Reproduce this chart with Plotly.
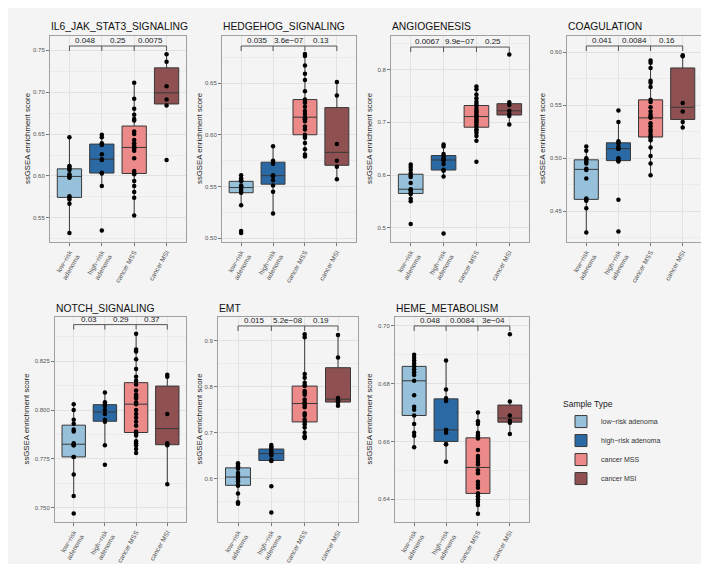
import numpy as np
import plotly.graph_objects as go

# ---------------- data ----------------
groups = ["low−risk adenoma", "high−risk adenoma", "cancer MSS", "cancer MSI"]
tick_labels = ["low−risk<br>adenoma", "high−risk<br>adenoma", "cancer MSS", "cancer MSI"]
colors = ["#97c1db", "#2a69a3", "#ec8a8a", "#8e5050"]

pathways = ["IL6_JAK_STAT3_SIGNALING", "HEDGEHOG_SIGNALING", "ANGIOGENESIS", "COAGULATION",
            "NOTCH_SIGNALING", "EMT", "HEME_METABOLISM"]

il6_low = [0.532, 0.567, 0.572, 0.574, 0.576, 0.598, 0.599, 0.600, 0.602, 0.607, 0.609, 0.611, 0.612, 0.646]
il6_high = [0.535, 0.588, 0.603, 0.604, 0.619, 0.620, 0.626, 0.637, 0.639, 0.646, 0.649]
il6_mss = [0.553, 0.574, 0.581, 0.588, 0.594, 0.602, 0.604, 0.606, 0.621, 0.630, 0.633, 0.634, 0.636,
           0.639, 0.643, 0.650, 0.653, 0.666, 0.668, 0.673, 0.680, 0.692, 0.711]
il6_msi = [0.619, 0.684, 0.691, 0.707, 0.736, 0.745]

hh_low = [0.505, 0.507, 0.532, 0.544, 0.545, 0.547, 0.549, 0.550, 0.551, 0.555, 0.556, 0.558, 0.561]
hh_high = [0.524, 0.545, 0.551, 0.556, 0.560, 0.561, 0.572, 0.574, 0.575, 0.589]
hh_mss = [0.579, 0.581, 0.586, 0.592, 0.597, 0.598, 0.600, 0.605, 0.608, 0.613, 0.615, 0.616, 0.617,
          0.620, 0.623, 0.627, 0.631, 0.632, 0.634, 0.642, 0.653, 0.659, 0.667, 0.676, 0.678]
hh_msi = [0.557, 0.569, 0.575, 0.591, 0.638, 0.651]

ang_low = [0.507, 0.550, 0.555, 0.564, 0.566, 0.570, 0.572, 0.573, 0.585, 0.596, 0.599, 0.604, 0.610, 0.615, 0.620]
ang_high = [0.489, 0.597, 0.608, 0.610, 0.621, 0.628, 0.629, 0.632, 0.636, 0.640, 0.654, 0.658]
ang_mss = [0.625, 0.665, 0.674, 0.680, 0.684, 0.687, 0.692, 0.696, 0.700, 0.703, 0.706, 0.710, 0.712,
           0.715, 0.719, 0.722, 0.726, 0.731, 0.735, 0.739, 0.746, 0.753, 0.763, 0.768]
ang_msi = [0.696, 0.712, 0.716, 0.722, 0.733, 0.738, 0.829]

coa_low = [0.430, 0.453, 0.460, 0.461, 0.462, 0.481, 0.489, 0.490, 0.495, 0.497, 0.499, 0.500, 0.507, 0.511]
coa_high = [0.431, 0.461, 0.497, 0.498, 0.500, 0.509, 0.509, 0.511, 0.514, 0.516, 0.534, 0.545]
coa_mss = [0.484, 0.495, 0.502, 0.510, 0.517, 0.519, 0.520, 0.522, 0.525, 0.527, 0.530, 0.533, 0.538,
           0.539, 0.541, 0.544, 0.548, 0.553, 0.555, 0.567, 0.571, 0.573, 0.585, 0.590, 0.592]
coa_msi = [0.529, 0.534, 0.544, 0.552, 0.596, 0.597]

not_low = [0.747, 0.756, 0.767, 0.776, 0.776, 0.782, 0.782, 0.783, 0.789, 0.790, 0.793, 0.795, 0.800, 0.803]
not_high = [0.772, 0.782, 0.794, 0.795, 0.798, 0.800, 0.802, 0.803, 0.804, 0.809]
not_mss = [0.778, 0.780, 0.782, 0.783, 0.784, 0.787, 0.788, 0.789, 0.792, 0.794, 0.796, 0.798, 0.800, 0.803,
           0.804, 0.806, 0.807, 0.808, 0.810, 0.813, 0.815, 0.817, 0.821, 0.826, 0.830, 0.831, 0.839]
not_msi = [0.762, 0.782, 0.783, 0.798, 0.817, 0.818]

emt_low = [0.545, 0.548, 0.567, 0.584, 0.586, 0.594, 0.599, 0.603, 0.606, 0.612, 0.621, 0.625, 0.626, 0.629, 0.633]
emt_high = [0.526, 0.583, 0.638, 0.640, 0.650, 0.654, 0.658, 0.662, 0.666, 0.669, 0.673]
emt_mss = [0.688, 0.690, 0.692, 0.700, 0.711, 0.718, 0.723, 0.728, 0.737, 0.742, 0.755, 0.760, 0.763,
           0.765, 0.772, 0.782, 0.787, 0.790, 0.801, 0.803, 0.808, 0.819, 0.827, 0.907, 0.914]
emt_msi = [0.758, 0.765, 0.770, 0.775, 0.863, 0.912]

heme_low = [0.658, 0.662, 0.663, 0.666, 0.669, 0.671, 0.672, 0.676, 0.681, 0.683, 0.684, 0.685, 0.686,
            0.687, 0.688, 0.689, 0.690]
heme_high = [0.653, 0.659, 0.659, 0.663, 0.664, 0.664, 0.674, 0.675, 0.678, 0.688]
heme_mss = [0.635, 0.638, 0.639, 0.640, 0.641, 0.642, 0.642, 0.644, 0.645, 0.646, 0.649, 0.650, 0.652,
            0.653, 0.654, 0.655, 0.657, 0.661, 0.662, 0.662, 0.663, 0.666, 0.667, 0.670]
heme_msi = [0.6626, 0.6665, 0.6672, 0.6690, 0.6738, 0.6971]

panel_values = [
    [il6_low, il6_high, il6_mss, il6_msi],
    [hh_low, hh_high, hh_mss, hh_msi],
    [ang_low, ang_high, ang_mss, ang_msi],
    [coa_low, coa_high, coa_mss, coa_msi],
    [not_low, not_high, not_mss, not_msi],
    [emt_low, emt_high, emt_mss, emt_msi],
    [heme_low, heme_high, heme_mss, heme_msi],
]

p_values = [
    ["0.048", "0.25", "0.0075"],
    ["0.035", "3.6e−07", "0.13"],
    ["0.0067", "9.9e−07", "0.25"],
    ["0.041", "0.0084", "0.16"],
    ["0.03", "0.29", "0.37"],
    ["0.015", "5.2e−08", "0.19"],
    ["0.048", "0.0084", "3e−04"],
]
bracket_y = [0.7548, 0.6857, 0.843, 0.6057, 0.8437, 0.9318, 0.700]
y_title = "ssGSEA enrichment score"

# ---------------- layout (pixels) ----------------
W, H = 709, 564
panel_px = [  # x0, x1, y0(top), y1(bottom)
    (42, 178, 28, 234), (214, 348, 28, 234), (383, 521, 28, 234), (559, 694, 28, 234),
    (47, 178, 309, 514), (210, 350, 309, 514), (387, 521, 309, 514),
]
ytitle_px = [19, 191, 361, 534, 18, 191, 361]
y_ranges = [(0.5214, 0.7667), (0.4964, 0.6954), (0.4728, 0.864), (0.4211, 0.6151),
            (0.7427, 0.8476), (0.5052, 0.9513), (0.6321, 0.7031)]
y_dticks = [0.05, 0.05, 0.1, 0.05, 0.025, 0.1, 0.02]
y_formats = [".2f", ".2f", ".1f", ".2f", ".3f", ".1f", ".2f"]

FONT = "Liberation Sans, Arial, sans-serif"
BG = "#f4f4f4"
GRID = "#e2e2e2"
MINOR = "#ebebeb"
BORDER = "#a0a0a0"


def box_stats(v):
    """ggplot2-style (R type 7) box statistics."""
    a = np.asarray(v, dtype=float)
    q1, med, q3 = np.percentile(a, [25, 50, 75])
    iqr = q3 - q1
    lo = a[a >= q1 - 1.5 * iqr].min()
    hi = a[a <= q3 + 1.5 * iqr].max()
    return q1, med, q3, lo, hi


fig = go.Figure()
layout = dict(shapes=[], annotations=[])

for i, (vals, title) in enumerate(zip(panel_values, pathways)):
    n = i + 1
    xa = "x" if n == 1 else f"x{n}"
    ya = "y" if n == 1 else f"y{n}"
    for g, (v, grp, col, tl) in enumerate(zip(vals, groups, colors, tick_labels)):
        q1, med, q3, lo, hi = box_stats(v)
        fig.add_trace(go.Box(
            x=[tl], q1=[q1], median=[med], q3=[q3], lowerfence=[lo], upperfence=[hi],
            name=grp, showlegend=(i == 0),
            fillcolor=col, line=dict(color="#383838", width=1),
            width=0.75, whiskerwidth=0, xaxis=xa, yaxis=ya, hoverinfo="skip",
        ))
        fig.add_trace(go.Scatter(
            x=[tl] * len(v), y=v, mode="markers", showlegend=False,
            marker=dict(color="black", size=4.5), xaxis=xa, yaxis=ya, hoverinfo="y",
        ))
    x0, x1, yt, yb = panel_px[i]
    xkey = "xaxis" if n == 1 else f"xaxis{n}"
    ykey = "yaxis" if n == 1 else f"yaxis{n}"
    layout[xkey] = dict(
        domain=[x0 / W, x1 / W], anchor=ya, type="category",
        categoryorder="array", categoryarray=tick_labels, range=[-0.6, 3.6],
        tickangle=-60, tickfont=dict(size=6.6, color="#555555", family=FONT),
        showgrid=True, gridcolor=GRID, gridwidth=1,
        showline=True, mirror=True, linecolor=BORDER, linewidth=1,
        ticks="outside", ticklen=3, tickcolor="#777777", zeroline=False,
    )
    lo, hi = y_ranges[i]
    layout[ykey] = dict(
        domain=[1 - yb / H, 1 - yt / H], anchor=xa, range=[lo, hi],
        tick0=0, dtick=y_dticks[i], tickformat=y_formats[i],
        tickfont=dict(size=6, color="#555555", family=FONT),
        showgrid=True, gridcolor=GRID, gridwidth=1,
        minor=dict(showgrid=True, gridcolor=MINOR, dtick=y_dticks[i] / 2, tick0=0),
        showline=True, mirror=True, linecolor=BORDER, linewidth=1,
        ticks="outside", ticklen=3, tickcolor="#777777", zeroline=False,
    )
    # y-axis title
    layout["annotations"].append(dict(
        x=ytitle_px[i] / W, y=1 - (yt + yb) / 2 / H, xref="paper", yref="paper",
        text=y_title, textangle=-90, showarrow=False, xanchor="center", yanchor="middle",
        font=dict(size=7.8, color="#222222", family=FONT)))
    # significance brackets
    by = bracket_y[i]
    tip = 5 * (hi - lo) / (yb - yt)
    layout["shapes"].append(dict(type="line", xref=xa, yref=ya, x0=0, x1=3, y0=by, y1=by,
                                 line=dict(color="#555555", width=1)))
    for k in range(4):
        layout["shapes"].append(dict(type="line", xref=xa, yref=ya, x0=k, x1=k, y0=by, y1=by - tip,
                                     line=dict(color="#555555", width=1)))
    for k, pv in enumerate(p_values[i]):
        layout["annotations"].append(dict(
            x=k + 0.5, y=by, xref=xa, yref=ya, text=pv, showarrow=False,
            yanchor="bottom", yshift=-1, font=dict(size=8, color="#222222", family=FONT)))
    # panel title
    layout["annotations"].append(dict(
        x=x0 / W, y=1 - (yt - 9) / H, xref="paper", yref="paper", text=title,
        showarrow=False, xanchor="left", yanchor="middle", xshift=-1,
        font=dict(size=10.3, color="#111111", family=FONT)))

fig.update_layout(
    width=W, height=H, margin=dict(l=0, r=0, t=0, b=0),
    paper_bgcolor=BG, plot_bgcolor=BG, boxmode="overlay",
    font=dict(family=FONT, color="#222222"),
    legend=dict(title=dict(text="Sample Type", font=dict(size=8.5, color="#222222")),
                font=dict(size=7, color="#333333"), x=553 / W, y=1 - 388 / H,
                xanchor="left", yanchor="top", bgcolor="rgba(0,0,0,0)",
                tracegroupgap=0, itemwidth=30),
    **layout,
)

fig.write_html("out.html")
